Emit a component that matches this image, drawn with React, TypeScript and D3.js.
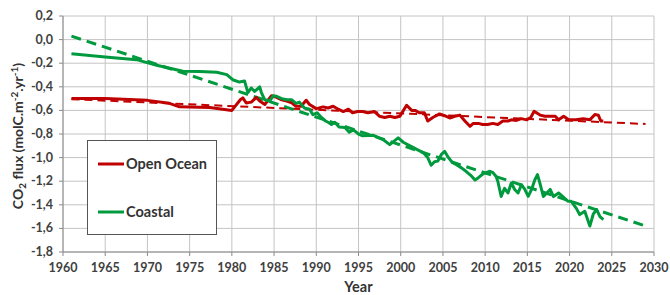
import * as d3 from 'd3'

// tick labels
const yearTicks = [1960, 1965, 1970, 1975, 1980, 1985, 1990, 1995, 2000, 2005, 2010, 2015, 2020, 2025, 2030]
const fluxTicks = [0.2, 0, -0.2, -0.4, -0.6, -0.8, -1.0, -1.2, -1.4, -1.6, -1.8]

// Open Ocean series
const oceanYears = [1961, 1965, 1970, 1972.6, 1973.8, 1977.4, 1980.0, 1981.0, 1981.3, 1981.7, 1982.3, 1982.9, 1983.3, 1983.9, 1984.7, 1985.3, 1985.9, 1986.5, 1987.1, 1987.6, 1988.2, 1988.8, 1989.2, 1990.0, 1990.8, 1991.4, 1992.0, 1992.6, 1993.2, 1993.8, 1994.3, 1994.9, 1995.5, 1996.1, 1996.9, 1997.5, 1998.1, 1998.7, 1999.3, 1999.9, 2000.7, 2001.3, 2001.7, 2002.2, 2002.8, 2003.2, 2003.8, 2004.6, 2005.2, 2005.8, 2006.4, 2007.0, 2007.6, 2008.2, 2008.6, 2009.2, 2009.7, 2010.3, 2010.9, 2011.5, 2012.1, 2012.7, 2013.1, 2013.7, 2014.3, 2014.9, 2015.4, 2015.8, 2016.5, 2017.1, 2017.7, 2018.3, 2018.7, 2019.3, 2019.9, 2020.8, 2021.6, 2022.4, 2023.0, 2023.4, 2023.7, 2024.0]
const oceanFlux = [-0.50, -0.50, -0.515, -0.54, -0.57, -0.575, -0.60, -0.51, -0.494, -0.537, -0.53, -0.49, -0.52, -0.55, -0.475, -0.49, -0.51, -0.52, -0.535, -0.565, -0.565, -0.514, -0.55, -0.585, -0.57, -0.58, -0.565, -0.59, -0.61, -0.59, -0.62, -0.61, -0.61, -0.62, -0.61, -0.65, -0.66, -0.65, -0.66, -0.65, -0.556, -0.60, -0.60, -0.62, -0.62, -0.69, -0.66, -0.63, -0.645, -0.664, -0.65, -0.64, -0.69, -0.735, -0.71, -0.71, -0.72, -0.72, -0.71, -0.72, -0.69, -0.69, -0.68, -0.685, -0.67, -0.68, -0.66, -0.607, -0.64, -0.65, -0.65, -0.65, -0.68, -0.65, -0.68, -0.68, -0.67, -0.68, -0.635, -0.64, -0.69, -0.69]

// Coastal series
const coastalYears = [1961, 1965, 1968.7, 1971.1, 1974.2, 1976.2, 1978.2, 1979.4, 1980.1, 1980.9, 1981.5, 1981.9, 1982.3, 1982.7, 1983.3, 1983.5, 1983.9, 1984.5, 1984.9, 1985.3, 1985.9, 1986.5, 1987.1, 1987.6, 1988.0, 1988.6, 1989.2, 1989.6, 1990.1, 1990.6, 1991.1, 1991.5, 1991.8, 1992.2, 1992.7, 1993.4, 1993.9, 1994.4, 1995.0, 1995.5, 1996.7, 1997.9, 1998.7, 1999.7, 2000.3, 2001.1, 2001.9, 2002.7, 2003.2, 2003.6, 2004.0, 2004.4, 2004.8, 2005.2, 2005.6, 2006.1, 2006.6, 2007.2, 2007.8, 2008.4, 2008.8, 2009.2, 2009.8, 2010.5, 2010.9, 2011.3, 2011.5, 2011.9, 2012.3, 2012.7, 2013.1, 2013.5, 2013.9, 2014.3, 2014.7, 2015.1, 2015.5, 2015.9, 2016.2, 2016.5, 2016.9, 2017.3, 2017.7, 2018.1, 2018.7, 2019.2, 2019.8, 2020.2, 2020.8, 2021.2, 2021.8, 2022.4, 2022.8, 2023.2, 2023.6, 2024.0]
const coastalFlux = [-0.12, -0.147, -0.17, -0.218, -0.268, -0.27, -0.277, -0.297, -0.34, -0.36, -0.35, -0.45, -0.41, -0.44, -0.40, -0.45, -0.51, -0.52, -0.475, -0.48, -0.50, -0.51, -0.51, -0.54, -0.53, -0.58, -0.59, -0.636, -0.62, -0.66, -0.69, -0.705, -0.72, -0.70, -0.74, -0.745, -0.785, -0.765, -0.80, -0.815, -0.81, -0.847, -0.89, -0.833, -0.87, -0.90, -0.93, -0.96, -1.0, -1.065, -1.035, -1.03, -0.975, -0.946, -0.995, -1.04, -1.06, -1.087, -1.12, -1.158, -1.19, -1.17, -1.135, -1.116, -1.125, -1.16, -1.2, -1.33, -1.26, -1.30, -1.215, -1.27, -1.30, -1.23, -1.27, -1.328, -1.27, -1.186, -1.144, -1.22, -1.33, -1.30, -1.27, -1.33, -1.30, -1.33, -1.37, -1.37, -1.43, -1.483, -1.455, -1.58, -1.48, -1.44, -1.50, -1.525]

// linear trends (end points)
const oceanTrendYears = [1961, 2029]
const oceanTrendFlux = [-0.505, -0.715]
const coastalTrendYears = [1961, 2029]
const coastalTrendFlux = [0.03, -1.58]

const RED = '#c00000'
const GREEN = '#009a3e'
const FONT = 'Lato, "Liberation Sans", sans-serif'

const width = 670
const height = 295
const margin = { top: 16, right: 16, bottom: 43, left: 63 }

const fmt = (v: number) => (Math.abs(v) < 1e-9 ? '0,0' : v.toFixed(1).replace('.', ','))

export default function App() {
  const innerW = width - margin.left - margin.right
  const innerH = height - margin.top - margin.bottom

  const x = d3.scaleLinear().domain([1960, 2030]).range([0, innerW])
  const y = d3.scaleLinear().domain([-1.8, 0.2]).range([innerH, 0])

  const line = d3.line<[number, number]>()
    .x(d => x(d[0]))
    .y(d => y(d[1]))

  const zip = (a: number[], b: number[]) => a.map((v, i) => [v, b[i]] as [number, number])

  return (
    <div style={{ position: 'absolute', left: 0, top: 0 }}>
      <svg width={width} height={height} style={{ display: 'block', background: '#fff' }} fontFamily={FONT}>
        <g transform={`translate(${margin.left},${margin.top})`}>
          {/* grid */}
          {fluxTicks.map(t => (
            <line key={'gy' + t} x1={0} x2={innerW} y1={y(t)} y2={y(t)} stroke="#c4c4c4" strokeWidth={1} />
          ))}
          {yearTicks.map(t => (
            <line key={'gx' + t} x1={x(t)} x2={x(t)} y1={0} y2={innerH} stroke="#c4c4c4" strokeWidth={1} />
          ))}
          {/* axes */}
          <line x1={0} x2={innerW} y1={innerH} y2={innerH} stroke="#8a8a8a" />
          <line x1={0} x2={0} y1={0} y2={innerH} stroke="#8a8a8a" />
          {yearTicks.map(t => (
            <line key={'tx' + t} x1={x(t)} x2={x(t)} y1={innerH} y2={innerH + 4} stroke="#8a8a8a" />
          ))}
          {fluxTicks.map(t => (
            <line key={'ty' + t} x1={-4} x2={0} y1={y(t)} y2={y(t)} stroke="#8a8a8a" />
          ))}
          {yearTicks.map(t => (
            <text key={'lx' + t} x={x(t)} y={innerH + 20} textAnchor="middle" fontSize={12.5} fontWeight="bold" fill="#404040">{t}</text>
          ))}
          {fluxTicks.map(t => (
            <text key={'ly' + t} x={-10} y={y(t) + 4} textAnchor="end" fontSize={12.5} fontWeight="bold" fill="#404040">{fmt(t)}</text>
          ))}

          {/* trends */}
          <path d={line(zip(oceanTrendYears, oceanTrendFlux)) || ''} fill="none" stroke={RED} strokeWidth={2} strokeDasharray="8,5" />
          <path d={line(zip(coastalTrendYears, coastalTrendFlux)) || ''} fill="none" stroke={GREEN} strokeWidth={3} strokeDasharray="10,6" />

          {/* series */}
          <path d={line(zip(oceanYears, oceanFlux)) || ''} fill="none" stroke={RED} strokeWidth={3} strokeLinejoin="round" />
          <path d={line(zip(coastalYears, coastalFlux)) || ''} fill="none" stroke={GREEN} strokeWidth={3} strokeLinejoin="round" />
        </g>

        {/* legend */}
        <rect x={87.5} y={140.5} width={129} height={94} fill="#fff" stroke="#555" strokeWidth={1} />
        <line x1={98} x2={124} y1={164} y2={164} stroke={RED} strokeWidth={3} />
        <text x={126} y={169} fontSize={14.5} fontWeight="bold" fill="#333">Open Ocean</text>
        <line x1={98} x2={124} y1={212} y2={212} stroke={GREEN} strokeWidth={3} />
        <text x={126} y={217} fontSize={14.5} fontWeight="bold" fill="#333">Coastal</text>

        {/* axis titles */}
        <text x={margin.left + innerW / 2} y={292} textAnchor="middle" fontSize={14.5} fontWeight="bold" fill="#333">Year</text>
        <text transform={`translate(23,${margin.top + innerH / 2 + 2}) rotate(-90)`} textAnchor="middle" fontSize={14} fontWeight="bold" fill="#333">
          CO<tspan fontSize={10} dy={3}>2</tspan><tspan dy={-3}> flux (molC.m</tspan><tspan fontSize={10} dy={-5}>-2</tspan><tspan dy={5}>.yr</tspan><tspan fontSize={10} dy={-5}>-1</tspan><tspan dy={5}>)</tspan>
        </text>
      </svg>
    </div>
  )
}
